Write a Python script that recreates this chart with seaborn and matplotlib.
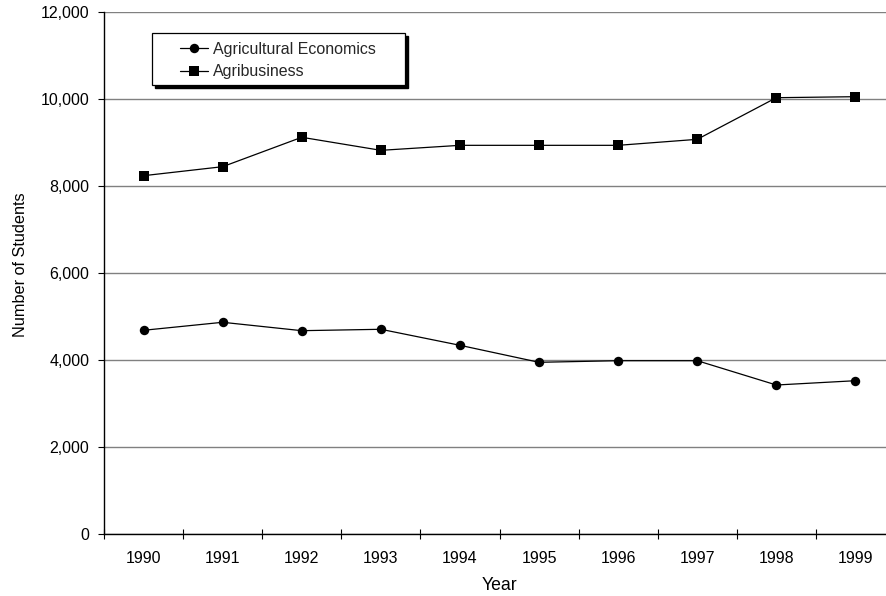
import matplotlib
matplotlib.use('Agg')
import matplotlib.pyplot as plt
from matplotlib.patches import Rectangle
from matplotlib.ticker import FuncFormatter
import seaborn as sns
import pandas as pd

# --- data ---
YEARS = [1990, 1991, 1992, 1993, 1994, 1995, 1996, 1997, 1998, 1999]
AG_ECON = [4683, 4867, 4674, 4706, 4338, 3947, 3984, 3984, 3425, 3524]
AGRIBUSINESS = [8237, 8444, 9120, 8820, 8935, 8935, 8935, 9073, 10030, 10053]
SERIES = ["Agricultural Economics", "Agribusiness"]
Y_TICKS = [0, 2000, 4000, 6000, 8000, 10000, 12000]

df = pd.DataFrame({"Year": YEARS, SERIES[0]: AG_ECON, SERIES[1]: AGRIBUSINESS})
long_df = df.melt(id_vars="Year", var_name="Program", value_name="Students")

sns.set_theme(style="white")
plt.rcParams['font.family'] = ['Liberation Sans', 'DejaVu Sans']

fig = plt.figure(figsize=(8.86, 5.96), dpi=100)
# plot area runs a little past the right edge of the picture, as in the reference
ax = fig.add_axes([104 / 886, 62 / 596, 791 / 886, 522 / 596])

ax.set_axisbelow(True)
ax.yaxis.grid(True, color="#808080", linewidth=1.0)
ax.xaxis.grid(False)

sns.lineplot(data=long_df, x="Year", y="Students", hue="Program", style="Program",
             markers={SERIES[0]: "o", SERIES[1]: "s"}, dashes=False,
             palette={SERIES[0]: "black", SERIES[1]: "black"},
             linewidth=0.9, markersize=6.8, markeredgewidth=0,
             ax=ax, legend=True)

ax.set_xlim(YEARS[0] - 0.5, YEARS[-1] + 0.5)
ax.set_ylim(0, 12000)
ax.set_yticks(Y_TICKS)
ax.yaxis.set_major_formatter(FuncFormatter(lambda v, p: f"{int(v):,}"))
ax.set_xticks(YEARS)
ax.set_xticklabels([str(y) for y in YEARS])
ax.set_xticks([y - 0.5 for y in YEARS] + [YEARS[-1] + 0.5], minor=True)

ax.tick_params(axis="x", which="major", length=0, pad=12, labelsize=11.5, colors="black")
ax.tick_params(axis="x", which="minor", direction="inout", length=7, width=0.8, color="black", bottom=True)
ax.tick_params(axis="y", which="major", direction="out", length=4, width=0.8, pad=6.5,
               labelsize=11.5, colors="black", left=True)

for side in ["top", "right"]:
    ax.spines[side].set_visible(False)
for side in ["left", "bottom"]:
    ax.spines[side].set_color("black")
    ax.spines[side].set_linewidth(1.0)

ax.set_xlabel("Year", fontsize=12.7, color="black")
ax.set_ylabel("Number of Students", fontsize=11.7, color="black")
ax.xaxis.set_label_coords(0.5, -0.082)
ax.yaxis.set_label_coords(-0.0955, 0.516)

# legend box with a solid drop shadow
bx, by, bw, bh = 48 / 791, (534 - 85) / 522, 253 / 791, 52 / 522
ax.add_patch(Rectangle((bx + 3 / 791, by - 3 / 522), bw, bh, transform=ax.transAxes,
                       facecolor="black", edgecolor="black", zorder=5, clip_on=False))
ax.add_patch(Rectangle((bx, by), bw, bh, transform=ax.transAxes,
                       facecolor="white", edgecolor="black", linewidth=0.9, zorder=6, clip_on=False))

handles, labels = ax.get_legend_handles_labels()
leg = ax.legend(handles, labels, loc="upper left", bbox_to_anchor=(76 / 791, 0.943),
                frameon=False, fontsize=11.5, handlelength=1.75, handletextpad=0.3,
                borderpad=0, borderaxespad=0, labelspacing=0.48)
leg.set_zorder(7)

fig.savefig("out.png", dpi=100)
plt.close(fig)
